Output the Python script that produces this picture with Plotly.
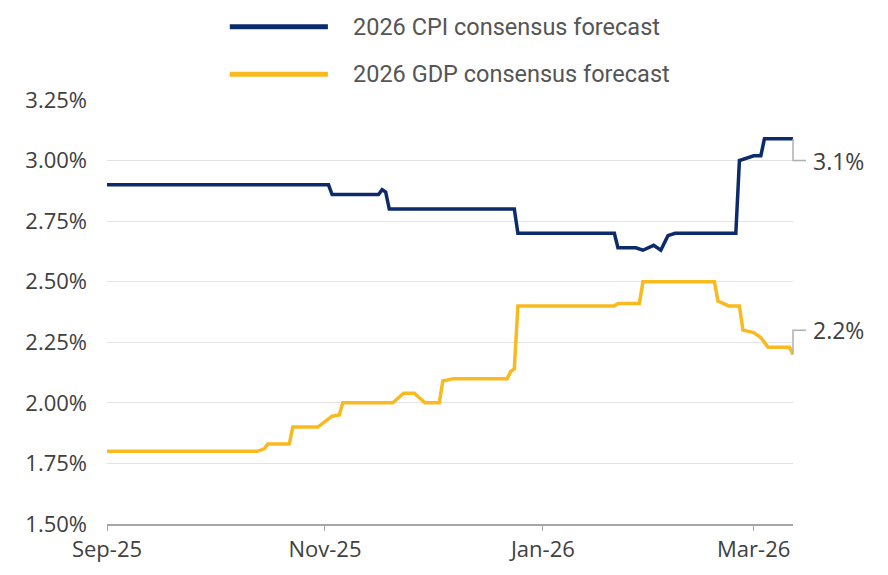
import plotly.graph_objects as go

# ---- data ----
cpi_dates = ["2025-09-01", "2025-11-02", "2025-11-03", "2025-11-16", "2025-11-17", "2025-11-18",
             "2025-11-19", "2025-12-24", "2025-12-25", "2026-01-21", "2026-01-22", "2026-01-27",
             "2026-01-29", "2026-02-01", "2026-02-03", "2026-02-05", "2026-02-07", "2026-02-24",
             "2026-02-25", "2026-02-27", "2026-03-01", "2026-03-03", "2026-03-04", "2026-03-12"]
cpi_vals = [2.90, 2.90, 2.86, 2.86, 2.88, 2.87, 2.80, 2.80, 2.70, 2.70, 2.64, 2.64,
            2.63, 2.65, 2.63, 2.69, 2.70, 2.70, 3.00, 3.01, 3.02, 3.02, 3.09, 3.09]

gdp_dates = ["2025-09-01", "2025-10-13", "2025-10-15", "2025-10-16", "2025-10-22", "2025-10-23",
             "2025-10-30", "2025-11-03", "2025-11-05", "2025-11-06", "2025-11-20", "2025-11-23",
             "2025-11-26", "2025-11-29", "2025-12-03", "2025-12-04", "2025-12-07", "2025-12-22",
             "2025-12-23", "2025-12-24", "2025-12-25", "2026-01-21", "2026-01-22", "2026-01-28",
             "2026-01-29", "2026-02-18", "2026-02-19", "2026-02-22", "2026-02-25", "2026-02-26",
             "2026-03-01", "2026-03-03", "2026-03-05", "2026-03-11", "2026-03-12"]
gdp_vals = [1.80, 1.80, 1.81, 1.83, 1.83, 1.90, 1.90, 1.945, 1.95, 2.00, 2.00, 2.04,
            2.04, 2.00, 2.00, 2.09, 2.10, 2.10, 2.13, 2.14, 2.40, 2.40, 2.41, 2.41,
            2.50, 2.50, 2.42, 2.40, 2.40, 2.30, 2.29, 2.27, 2.23, 2.23, 2.20]

series_names = ["2026 CPI consensus forecast", "2026 GDP consensus forecast"]
end_labels = ["3.1%", "2.2%"]
label_levels = [3.00, 2.30]

x_tickvals = ["2025-09-01", "2025-11-01", "2026-01-01", "2026-03-01"]
x_ticktext = ["Sep-25", "Nov-25", "Jan-26", "Mar-26"]
y_tickvals = [1.50, 1.75, 2.00, 2.25, 2.50, 2.75, 3.00, 3.25]
y_ticktext = ["1.50%", "1.75%", "2.00%", "2.25%", "2.50%", "2.75%", "3.00%", "3.25%"]

NAVY = "#0B2B6B"
GOLD = "#F9BA1F"
GREY_TXT = "#404040"

fig = go.Figure()
fig.add_trace(go.Scatter(x=cpi_dates, y=cpi_vals, mode="lines", name=series_names[0],
                         line=dict(color=NAVY, width=3.5), showlegend=False))
fig.add_trace(go.Scatter(x=gdp_dates, y=gdp_vals, mode="lines", name=series_names[1],
                         line=dict(color=GOLD, width=3.5), showlegend=False))

shapes = []
annotations = []

# custom legend
for i, (name, col) in enumerate(zip(series_names, [NAVY, GOLD])):
    ypos = 1.173 - i * 0.112
    shapes.append(dict(type="line", xref="paper", yref="paper", x0=0.179, x1=0.322,
                       y0=ypos, y1=ypos, line=dict(color=col, width=5)))
    annotations.append(dict(xref="paper", yref="paper", x=0.355, y=ypos, text=name,
                            showarrow=False, xanchor="left", yanchor="middle",
                            font=dict(family="Roboto", size=23.5, color="#555555")))

# end-of-line labels with leader lines
for last, lvl, txt in zip([cpi_vals[-1], gdp_vals[-1]], label_levels, end_labels):
    shapes.append(dict(type="path", xref="paper", yref="y",
                       path=f"M 1,{last} L 1,{lvl} L 1.019,{lvl}",
                       line=dict(color="#B0B0B0", width=1.5)))
    annotations.append(dict(xref="paper", yref="y", x=1.026, y=lvl, text=txt,
                            showarrow=False, xanchor="left", yanchor="middle",
                            font=dict(family="Open Sans", size=23, color=GREY_TXT)))

# page body has an 8px default margin, so the figure is offset by 8px
fig.update_layout(
    width=880, height=567,
    margin=dict(l=99, r=95, t=92, b=49),
    paper_bgcolor="white", plot_bgcolor="white",
    shapes=shapes, annotations=annotations,
    font=dict(family="Open Sans", size=22, color=GREY_TXT),
)
fig.update_xaxes(
    type="date", range=["2025-09-01", "2026-03-12"],
    tickvals=x_tickvals, ticktext=x_ticktext,
    showgrid=False, showline=True, linecolor="#A6A6A6", linewidth=2,
    ticks="outside", ticklen=5, tickcolor="#A6A6A6",
    tickfont=dict(family="Open Sans", size=22, color=GREY_TXT),
    zeroline=False,
)
fig.update_yaxes(
    range=[1.5, 3.25], tickvals=y_tickvals, ticktext=y_ticktext,
    showgrid=True, gridcolor="#E3E3E3", gridwidth=1,
    showline=False, zeroline=False, ticks="", ticklabelstandoff=19,
    tickfont=dict(family="Open Sans", size=22, color=GREY_TXT),
)

fig.write_html("out.html")
